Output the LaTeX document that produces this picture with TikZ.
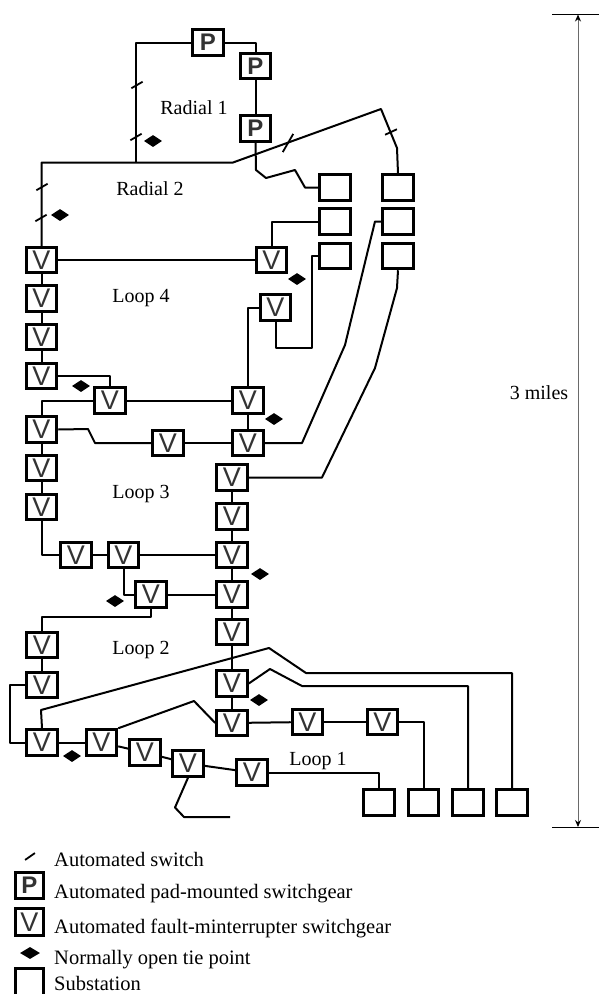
\documentclass[tikz,border=0pt]{standalone}
\usepackage{fontspec}
\setmainfont{Liberation Serif}
\newfontfamily\gearfont{Liberation Sans}
\usetikzlibrary{arrows.meta,shapes.geometric,positioning}
\definecolor{gearink}{HTML}{333333}
\definecolor{dimgrey}{HTML}{6A6A6A}

\begin{document}
\begin{tikzpicture}[x=1pt,y=-1pt,font=\fontsize{20}{24}\selectfont,
 gearbox/.style={draw=black,fill=white,line width=3pt,minimum width=30.5pt,minimum height=25.5pt,inner sep=0pt},
 vgear/.style={gearbox,text=gearink,font=\gearfont\fontsize{27}{27}\selectfont},
 pgear/.style={gearbox,text=gearink,font=\gearfont\bfseries\fontsize{24}{24}\selectfont},
 substation/.style={draw=black,fill=white,line width=3pt,minimum width=30.5pt,minimum height=25.5pt,inner sep=0pt},
 tiepoint/.style={diamond,fill=black,inner sep=0pt,minimum width=18pt,minimum height=12pt},
 swtick/.style={fill=black,inner sep=0pt,minimum width=13pt,minimum height=1.8pt},
 maplabel/.style={anchor=base,inner sep=0pt},
 legtext/.style={anchor=base west,inner sep=0pt,font=\fontsize{20.5}{24}\selectfont},
 link/.style={draw=black,line width=2pt,line join=round},dimline/.style={draw=dimgrey,line width=1pt},dimtick/.style={draw=black,line width=1pt}]
\useasboundingbox (0,0) rectangle (599,994);
\node[pgear] (p1) at (208,42.5) {P};
\node[pgear] (p2) at (255.5,66) {P};
\node[pgear] (p3) at (255.5,128.5) {P};
\node[substation] (sa1) at (335,187.5) {};
\node[substation] (sa2) at (335,221.5) {};
\node[substation] (sa3) at (335,256) {};
\node[substation] (sb1) at (398,187.5) {};
\node[substation] (sb2) at (398,221.5) {};
\node[substation] (sb3) at (398,256) {};
\node[substation] (sc1) at (379,802.5) {};
\node[substation] (sc2) at (423.5,802.5) {};
\node[substation] (sc3) at (468,802.5) {};
\node[substation] (sc4) at (512,802.5) {};
\node[vgear] (va1) at (41.5,260) {V};
\node[vgear] (va2) at (41.5,298.5) {V};
\node[vgear] (va3) at (41.5,337) {V};
\node[vgear] (va4) at (41.5,376) {V};
\node[vgear] (va5) at (41.5,429.5) {V};
\node[vgear] (va6) at (41.5,468) {V};
\node[vgear] (va7) at (41.5,507) {V};
\node[vgear] (va8) at (42,645) {V};
\node[vgear] (va9) at (42,685) {V};
\node[vgear] (va10) at (42,742.5) {V};
\node[vgear] (vb1) at (271.5,260) {V};
\node[vgear] (vb2) at (275.5,307.5) {V};
\node[vgear] (vb3) at (248,400.5) {V};
\node[vgear] (vb4) at (248,443) {V};
\node[vgear] (vc1) at (110,400.5) {V};
\node[vgear] (vc2) at (168,443) {V};
\node[vgear] (vd1) at (232,477.5) {V};
\node[vgear] (vd2) at (232,516.5) {V};
\node[vgear] (vd3) at (232,555) {V};
\node[vgear] (vd4) at (232,594.5) {V};
\node[vgear] (vd5) at (232,632) {V};
\node[vgear] (vd6) at (232,683.5) {V};
\node[vgear] (vd7) at (232,723) {V};
\node[vgear] (ve1) at (76,555) {V};
\node[vgear] (ve2) at (123.5,555) {V};
\node[vgear] (ve3) at (151,594.5) {V};
\node[vgear] (vf1) at (307.5,722) {V};
\node[vgear] (vf2) at (382.5,722) {V};
\node[vgear] (vg1) at (101.5,742.5) {V};
\node[vgear] (vg2) at (145,752.5) {V};
\node[vgear] (vg3) at (188,763.5) {V};
\node[vgear] (vg4) at (252,772.5) {V};
\coordinate (busjoin) at (136,162.5);
\coordinate (stubend) at (230,817);
\draw[link] (p1.west) -| (busjoin);\draw[link] (p1.east) -| (p2.north);\draw[link] (p2)--(p3);
\draw[link] (va1.north) |- (233,162.5)--(381,109)--(397,148)--(sb1.north);
\draw[link] (p3.south)--(256,170)--(266,178)--(295,170)--(305,187.5)--(sa1.west);
\draw[link] (va1)--(vb1);\draw[link] (vb1.north) |- (sa2.west);
\draw[link] (va1)--(va2);\draw[link] (va2)--(va3);\draw[link] (va3)--(va4);
\draw[link] (va4.east) -| (vc1.north);\draw[link] (vc1.west) -| (va5.north);\draw[link] (vc1)--(vb3);
\draw[link] (vb2.west) -| (vb3.north);\draw[link] (vb3)--(vb4);
\draw[link] (vb2.south) |- (312,348)--(312,256)--(sa3.west);
\draw[link] (vb4.east)--(302,443)--(345,345)--(368,250)--(375,221.5)--(sb2.west);
\draw[link] (sb3.south)--(397,288)--(375,368)--(322,477.5)--(vd1.east);
\draw[link] (va5.east)--(88,429)--(95,443)--(vc2.west);\draw[link] (vc2)--(vb4);
\draw[link] (va5)--(va6);\draw[link] (va6)--(va7);\draw[link] (va7.south) |- (ve1.west);
\draw[link] (ve1)--(ve2);\draw[link] (ve2)--(vd3);\draw[link] (ve2.south) |- (ve3.west);\draw[link] (ve3)--(vd4);
\draw[link] (vd1)--(vd2);\draw[link] (vd2)--(vd3);\draw[link] (vd3)--(vd4);\draw[link] (vd4)--(vd5);\draw[link] (vd5)--(vd6);\draw[link] (vd6)--(vd7);
\draw[link] (ve3.south) |- (42,617)--(va8.north);\draw[link] (va8)--(va9);
\draw[link] (va9.west) -| (10,742.5)--(va10.west);\draw[link] (va10)--(vg1);
\draw[link] (va10.north)--(41,710)--(269,648)--(306,673) -| (sc4.north);
\draw[link] (vd6.east)--(270,669)--(302,686) -| (sc3.north);
\draw[link] (vg1.north east)--(194,701)--(vd7.west);
\draw[link] (vd7)--(vf1);\draw[link] (vf1)--(vf2);\draw[link] (vf2.east) -| (sc2.north);
\draw[link] (vg1)--(vg2);\draw[link] (vg2)--(vg3);\draw[link] (vg3)--(vg4);\draw[link] (vg4.east) -| (sc1.north);
\draw[link] (vg3.south)--(175,807.5)--(184,817)--(stubend);
\node[tiepoint] (tie1) at (153,141) {};
\node[tiepoint] (tie2) at (60,215) {};
\node[tiepoint] (tie3) at (297,279) {};
\node[tiepoint] (tie4) at (81,386) {};
\node[tiepoint] (tie5) at (274,419) {};
\node[tiepoint] (tie6) at (260,574) {};
\node[tiepoint] (tie7) at (115,601) {};
\node[tiepoint] (tie8) at (259,700) {};
\node[tiepoint] (tie9) at (72,756) {};
\node[swtick,rotate=30] (sw1) at (137,85) {};
\node[swtick,rotate=30] (sw2) at (136,137) {};
\node[swtick,rotate=30] (sw3) at (42,187) {};
\node[swtick,rotate=30] (sw4) at (41,218) {};
\node[swtick,rotate=60,minimum width=21pt] (sw5) at (288,143) {};
\node[swtick,rotate=25] (sw6) at (391,132) {};
\node[maplabel] (radialone) at (194,114) {Radial 1};
\node[maplabel] (radialtwo) at (150,195) {Radial 2};
\node[maplabel] (loopfour) at (141,302) {Loop 4};
\node[maplabel] (loopthree) at (141,498) {Loop 3};
\node[maplabel] (looptwo) at (141,654.5) {Loop 2};
\node[maplabel] (loopone) at (318,765) {Loop 1};
\coordinate (dimtop) at (578,14.5);\coordinate (dimbot) at (578,827);
\draw[dimline,{Stealth[length=7pt,width=6pt,color=black]}-{Stealth[length=7pt,width=6pt,color=black]}] (dimtop)--(dimbot);
\draw[dimtick] ([xshift=-26pt]dimtop)--([xshift=21pt]dimtop);\draw[dimtick] ([xshift=-26pt]dimbot)--([xshift=21pt]dimbot);
\node[maplabel] (milelabel) at (539,399) {3 miles};
\node[swtick,rotate=35,minimum width=12pt] (legsw) at (30,856.5) {};
\node[pgear,minimum width=28.5pt,minimum height=26.5pt] (legp) at (29.5,885.5) {P};
\node[vgear,minimum width=28.5pt,minimum height=27.5pt] (legv) at (29.5,922) {V};
\node[tiepoint,minimum width=20pt] (legtie) at (30,953) {};
\node[substation,minimum width=28.5pt,minimum height=32pt] (legsub) at (29.5,984) {};
\node[legtext] (legswtxt) at (54,866) {Automated switch};
\node[legtext] (legptxt) at (54,898) {Automated pad-mounted switchgear};
\node[legtext] (legvtxt) at (54,933) {Automated fault-minterrupter switchgear};
\node[legtext] (legtietxt) at (54,964) {Normally open tie point};
\node[legtext] (legsubtxt) at (54,990) {Substation};
\end{tikzpicture}
\end{document}
